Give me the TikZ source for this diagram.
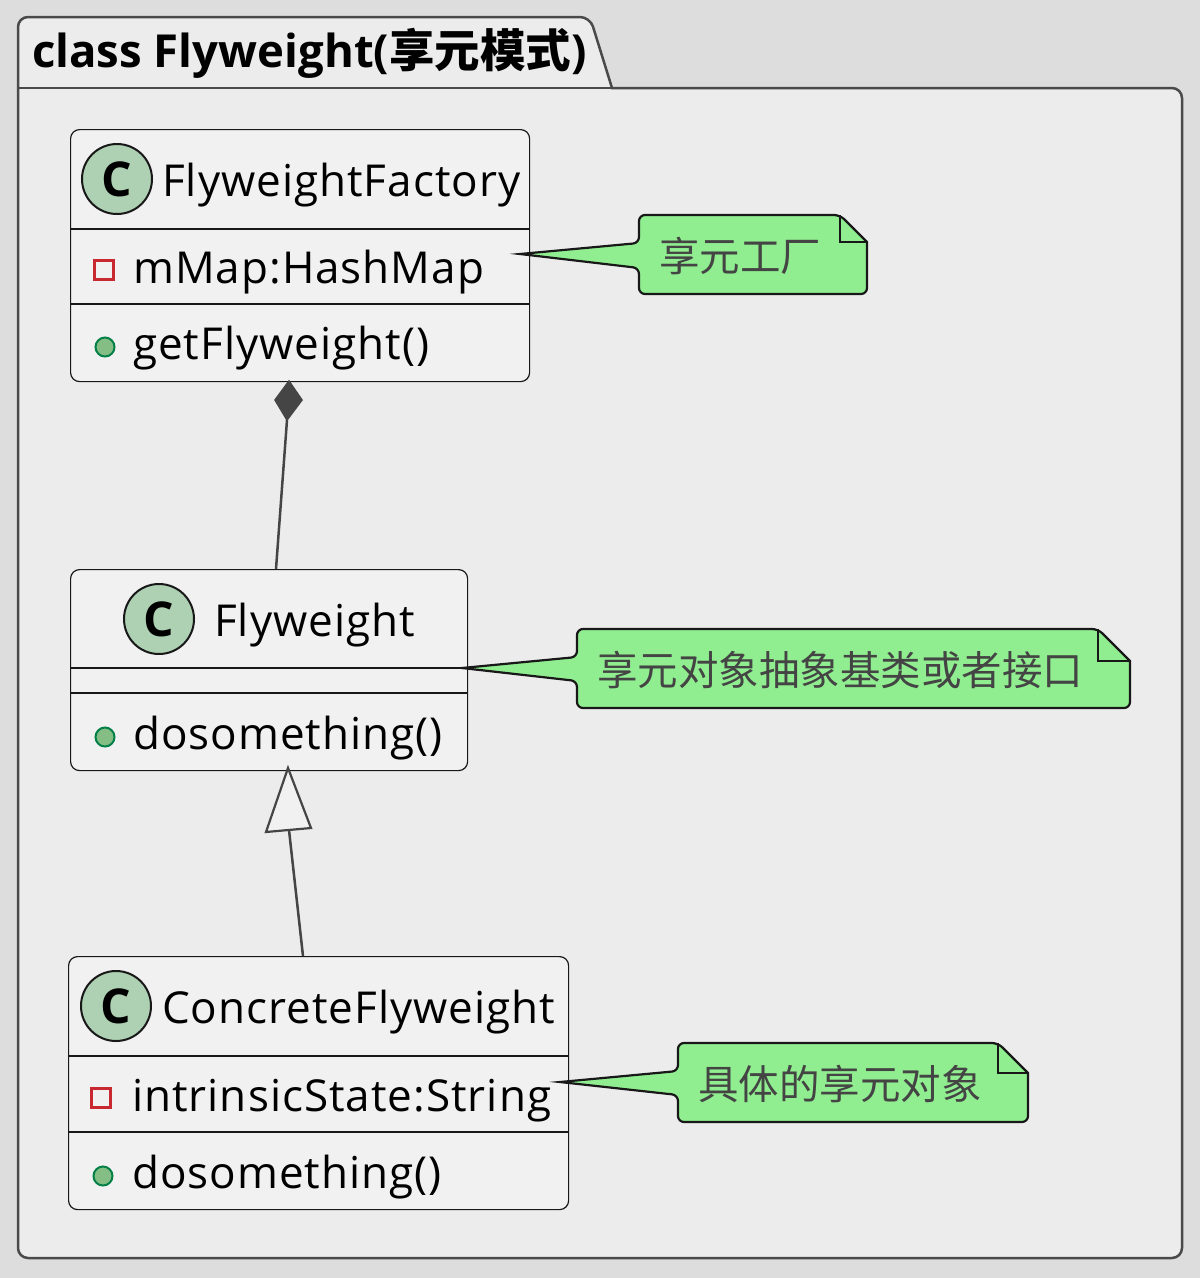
\documentclass[tikz,border=0pt]{standalone}
\usepackage{fontspec}
\setmainfont{Open Sans}
\newfontfamily\clsfam[LetterSpace=2.3]{Open Sans}
\newfontfamily\cjk{Noto Sans CJK SC}
\definecolor{outerbg}{HTML}{DDDDDD}
\definecolor{pkgbg}{HTML}{EBECEB}
\definecolor{pkgline}{HTML}{4A4A4A}
\definecolor{clsbg}{HTML}{F1F1F1}
\definecolor{clsline}{HTML}{181818}
\definecolor{circbg}{HTML}{ADD1B2}
\definecolor{privred}{HTML}{C82930}
\definecolor{pubfill}{HTML}{84BE84}
\definecolor{publine}{HTML}{038048}
\definecolor{notebg}{HTML}{90EE90}
\definecolor{notetext}{HTML}{444444}
\definecolor{conn}{HTML}{454545}
\newcommand\clsfont{\fontsize{44}{50}\selectfont\clsfam}
\newcommand\notefont{\fontsize{40.5}{46}\selectfont}
\tikzset{
  clsbox/.style={draw=clsline, fill=clsbg, line width=1.2pt, rounded corners=9pt, inner sep=0pt, anchor=north west},
  sepline/.style={draw=clsline, line width=1.2pt},
  circC/.style={circle, draw=clsline, fill=circbg, line width=2pt, minimum size=70pt, inner sep=0pt, font=\fontsize{48}{48}\selectfont\bfseries},
  privicon/.style={draw=privred, line width=2.6pt, minimum size=19pt, inner sep=0pt},
  pubicon/.style={circle, draw=publine, fill=pubfill, line width=2pt, minimum size=19pt, inner sep=0pt},
  txt/.style={anchor=base west, inner sep=0pt, font=\clsfont},
  notebox/.style={draw=clsline, fill=notebg, line width=2.2pt, rounded corners=6pt},
  notetxt/.style={anchor=west, inner sep=0pt, text=notetext, font=\notefont\cjk},
  connline/.style={draw=conn, line width=2.5pt},
}
\begin{document}
\begin{tikzpicture}[x=1pt,y=-1pt]
\useasboundingbox (0,0) rectangle (1200,1278);
\fill[outerbg] (0,0) rectangle (1200,1278);
% package
\draw[draw=pkgline, fill=pkgbg, line width=2.5pt, rounded corners=10pt]
  (18,600) -- (18,17) -- (590,17) [sharp corners] -- (612,88) [rounded corners=10pt] -- (1182,88) -- (1182,1258) -- (18,1258) -- cycle;
\draw[draw=pkgline, line width=2.5pt] (18,88) -- (612,88);
\node[anchor=base west, inner sep=0pt, font=\fontsize{45.5}{50}\selectfont\bfseries] (title) at (32,67)
  {class Flyweight({\cjk 享元模式})};

% FlyweightFactory
\node[clsbox, minimum width=459pt, minimum height=252pt] (ff) at (70,129) {};
\draw[sepline] (70,229) -- (529,229);
\draw[sepline] (70,304) -- (529,304);
\node[circC] (ffC) at (117,179) {C};
\node[txt] (ffname) at (162,196) {FlyweightFactory};
\node[privicon] (ffpriv) at (104,270) {};
\node[txt] (ffattr) at (133,283) {mMap:HashMap};
\node[pubicon] (ffpub) at (105,347) {};
\node[txt] (ffmeth) at (133,359) {getFlyweight()};

% Flyweight
\node[clsbox, minimum width=397pt, minimum height=201pt] (fw) at (70,569) {};
\draw[sepline] (70,668) -- (467,668);
\draw[sepline] (70,693) -- (467,693);
\node[circC] (fwC) at (159,619) {C};
\node[txt] (fwname) at (214,636) {Flyweight};
\node[pubicon] (fwpub) at (105,737) {};
\node[txt] (fwmeth) at (133,749) {dosomething()};

% ConcreteFlyweight
\node[clsbox, minimum width=500pt, minimum height=253pt] (cf) at (68,956) {};
\draw[sepline] (68,1056) -- (568,1056);
\draw[sepline] (68,1132) -- (568,1132);
\node[circC] (cfC) at (116,1006) {C};
\node[txt] (cfname) at (162,1023) {ConcreteFlyweight};
\node[privicon] (cfpriv) at (101,1098) {};
\node[txt] (cfattr) at (132,1111) {intrinsicState:String};
\node[pubicon] (cfpub) at (103,1176) {};
\node[txt] (cfmeth) at (132,1188) {dosomething()};

% notes
\coordinate (n1tip) at (520,254);
\draw[notebox] (n1tip) -- (639,243) -- (639,215) -- (840,215) [sharp corners] -- (867,242) [rounded corners=6pt] -- (867,294) -- (639,294) -- (639,268) [sharp corners] -- cycle;
\draw[draw=clsline, line width=2.2pt] (840,215) -- (840,242) -- (867,242);
\node[notetxt] (n1) at (659,256) {享元工厂};

\coordinate (n2tip) at (462,668);
\draw[notebox] (n2tip) -- (577,657) -- (577,629) -- (1098,629) [sharp corners] -- (1130,661) [rounded corners=6pt] -- (1130,708) -- (577,708) -- (577,681) [sharp corners] -- cycle;
\draw[draw=clsline, line width=2.2pt] (1098,629) -- (1098,661) -- (1130,661);
\node[notetxt] (n2) at (597,670) {享元对象抽象基类或者接口};

\coordinate (n3tip) at (560,1082);
\draw[notebox] (n3tip) -- (678,1071) -- (678,1043) -- (998,1043) [sharp corners] -- (1028,1073) [rounded corners=6pt] -- (1028,1122) -- (678,1122) -- (678,1095) [sharp corners] -- cycle;
\draw[draw=clsline, line width=2.2pt] (998,1043) -- (998,1073) -- (1028,1073);
\node[notetxt] (n3) at (698,1084) {具体的享元对象};

% composition
\coordinate (dtop) at (289,381);
\coordinate (dbot) at (287,420);
\draw[connline] (dbot) -- (276,569);
\draw[draw=conn, fill=conn, line width=1.5pt, line join=miter] (dtop) -- (302,400) -- (dbot) -- (275,400) -- cycle;

% inheritance
\coordinate (ttip) at (288,768);
\coordinate (tbase) at (289,830);
\draw[connline] (tbase) -- (303,956);
\draw[draw=conn, fill=clsbg, line width=2.2pt, line join=miter] (ttip) -- (311,828) -- (266,832) -- cycle;
\end{tikzpicture}
\end{document}
